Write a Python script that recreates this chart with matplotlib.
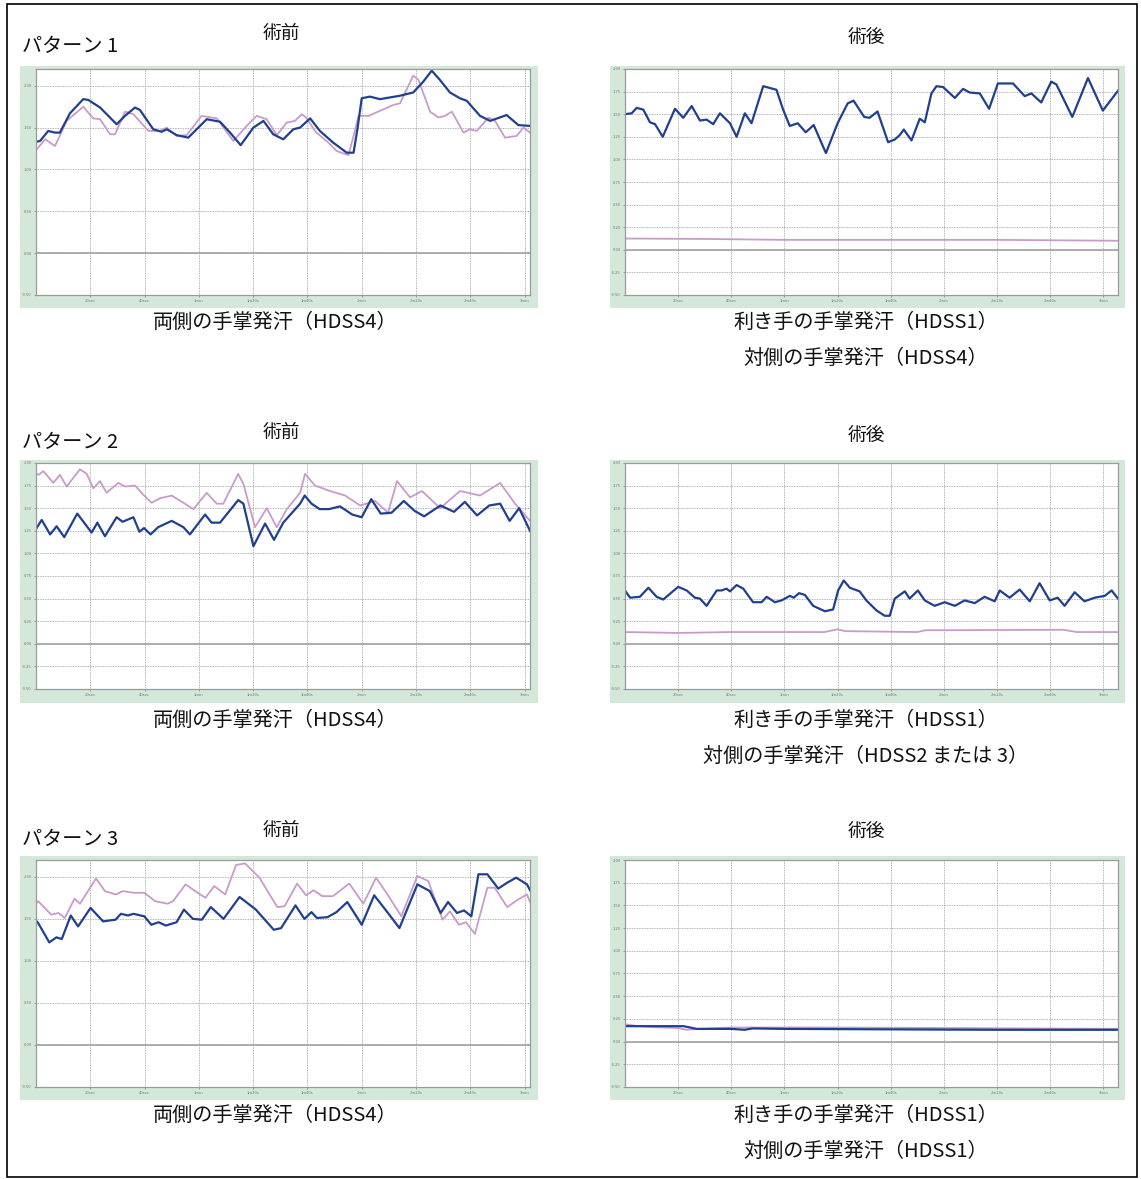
import matplotlib
matplotlib.use('Agg')
import matplotlib.pyplot as plt
from matplotlib.patches import Rectangle

plt.rcParams['font.family'] = ['Noto Sans CJK JP', 'DejaVu Sans']

BLUE = '#20408f'
PINK = '#c99bcb'
GREEN = '#d3e8d8'

x_ticks = [20, 40, 60, 80, 100, 120, 140, 160, 180]
x_labels = ['20sec', '40sec', '1min', '1m20s', '1m40s', '2min', '2m20s', '2m40s', '3min']
y_ticks_pre = [-0.5, 0.0, 0.5, 1.0, 1.5, 2.0]
y_ticks_post = [-0.5, -0.25, 0.0, 0.25, 0.5, 0.75, 1.0, 1.25, 1.5, 1.75, 2.0]

# パターン1 術前
p1_pre_blue_t = [0, 1.5, 4.5, 7, 8.8, 12.5, 17.4, 19.3, 23.6, 29.7, 32.8, 36.5, 38.3, 43.2, 46.3, 48.2,
                 51.8, 56.1, 62.9, 67.8, 71.5, 75.4, 80.1, 83.8, 87.4, 91.1, 94.8, 97.3, 101, 104.6,
                 109.5, 114.5, 117, 118.5, 120, 123, 126.7, 134, 139, 142.7, 145.8, 148.8, 152.5,
                 156.2, 158.7, 163.6, 167.3, 173.4, 177.7, 182]
p1_pre_blue = [1.33, 1.34, 1.46, 1.44, 1.44, 1.67, 1.84, 1.83, 1.74, 1.54, 1.64, 1.74, 1.71, 1.48, 1.45, 1.48,
               1.41, 1.38, 1.60, 1.57, 1.44, 1.29, 1.50, 1.58, 1.42, 1.36, 1.48, 1.50, 1.61, 1.46,
               1.32, 1.20, 1.20, 1.50, 1.85, 1.87, 1.84, 1.88, 1.92, 2.05, 2.18, 2.07, 1.92,
               1.85, 1.82, 1.64, 1.58, 1.65, 1.53, 1.52]
p1_pre_pink_t = [0, 3.4, 7, 11.3, 17.4, 21.1, 23.6, 27.3, 29.1, 32.8, 35.9, 41.4, 45.7, 48.2, 51.8, 55.5,
                 61, 66.6, 72.7, 77.6, 81.3, 85, 88.7, 92.4, 95.4, 97.9, 99.5, 103, 107.7, 110.8, 115.1,
                 117, 118.8, 122.5, 126.7, 131.6, 134.1, 139, 140.9, 145.2, 148.3, 150.7, 153.2, 157.5,
                 159.9, 162.4, 166.7, 169.1, 172.8, 177.1, 179.6, 182]
p1_pre_pink = [1.23, 1.36, 1.28, 1.58, 1.75, 1.61, 1.60, 1.42, 1.42, 1.69, 1.66, 1.46, 1.46, 1.50, 1.40, 1.41,
               1.64, 1.61, 1.34, 1.52, 1.64, 1.60, 1.41, 1.56, 1.58, 1.66, 1.62, 1.45, 1.32, 1.22, 1.17,
               1.40, 1.64, 1.64, 1.70, 1.77, 1.79, 2.12, 2.07, 1.69, 1.62, 1.64, 1.69, 1.44,
               1.48, 1.46, 1.62, 1.58, 1.38, 1.40, 1.50, 1.44]

# パターン1 術後
p1_post_blue_t = [0, 2.5, 4.4, 6.9, 9.4, 11.3, 14.2, 18.8, 21.9, 25.1, 28.2, 30.7, 33.2, 35.7, 39.5, 42,
                  45.1, 47.6, 52, 57, 59.5, 62, 65, 68, 71, 75.6, 80, 83.8, 86, 90, 92, 95, 99, 101.5,
                  103.4, 104.9, 107.8, 110.9, 112.8, 115.3, 117.2, 119.7, 124.1, 127.2, 129.7, 133.5,
                  137, 140.3, 146, 150.4, 152.9, 156.6, 160.4, 162.3, 168.3, 174.2, 179.8, 185.5]
p1_post_blue = [1.50, 1.51, 1.57, 1.55, 1.41, 1.39, 1.25, 1.56, 1.46, 1.59, 1.43, 1.44, 1.39, 1.51, 1.40, 1.25,
                1.51, 1.40, 1.81, 1.77, 1.55, 1.37, 1.40, 1.30, 1.38, 1.07, 1.40, 1.62, 1.65, 1.47, 1.46,
                1.53, 1.19, 1.22, 1.27, 1.33, 1.21, 1.45, 1.41, 1.73, 1.81, 1.80, 1.68, 1.78, 1.74, 1.73,
                1.56, 1.84, 1.84, 1.70, 1.73, 1.63, 1.86, 1.83, 1.47, 1.90, 1.54, 1.76]
p1_post_pink_t = [0, 30, 60, 100, 140, 185.5]
p1_post_pink = [0.125, 0.12, 0.11, 0.11, 0.11, 0.10]

# パターン2 術前
p2_pre_blue_t = [0, 2.1, 5.2, 7.6, 10.4, 15.2, 20.5, 22.6, 25.4, 29.7, 31.9, 35.9, 38.1, 39.8, 42.2, 45,
                 50, 54.3, 56.7, 62.3, 64.7, 67.8, 74.5, 76.4, 80.1, 84.4, 87.7, 91.1, 97.3, 99, 101.5,
                 104.5, 108, 112, 116.5, 120, 123.5, 127, 131, 135.5, 139.5, 143, 149, 154, 158, 162.5,
                 167, 171, 174.5, 178, 182]
p2_pre_blue = [1.27, 1.37, 1.21, 1.30, 1.18, 1.44, 1.23, 1.34, 1.19, 1.40, 1.35, 1.40, 1.24, 1.28, 1.21, 1.29,
               1.36, 1.29, 1.21, 1.43, 1.34, 1.34, 1.59, 1.55, 1.08, 1.33, 1.15, 1.34, 1.55, 1.64, 1.55,
               1.49, 1.49, 1.52, 1.43, 1.40, 1.60, 1.44, 1.45, 1.58, 1.47, 1.41, 1.53, 1.46, 1.57, 1.42,
               1.53, 1.55, 1.36, 1.50, 1.25]
p2_pre_pink_t = [0, 1, 2.7, 6.4, 8.8, 11.3, 16.2, 18.7, 21.1, 23.6, 26, 30.3, 32.8, 36.5, 39.5, 42.6, 45.7,
                 50, 54.3, 58, 62.9, 66.6, 69, 74.5, 76.4, 80.7, 85, 88.7, 92.4, 97.3, 99.1, 102.8, 108.3,
                 113.9, 119.4, 124.9, 129.7, 133, 137.8, 142.2, 148.9, 156.2, 163.6, 171, 176.5, 182]
p2_pre_pink = [1.88, 1.87, 1.91, 1.78, 1.87, 1.74, 1.93, 1.88, 1.72, 1.80, 1.67, 1.78, 1.74, 1.75, 1.65, 1.56, 1.61,
               1.64, 1.56, 1.49, 1.67, 1.55, 1.55, 1.88, 1.77, 1.29, 1.50, 1.29, 1.49, 1.67, 1.88, 1.75, 1.69,
               1.64, 1.53, 1.58, 1.45, 1.80, 1.62, 1.69, 1.50, 1.69, 1.64, 1.78, 1.55, 1.36]

# パターン2 術後
p2_post_blue_t = [0, 1.9, 5.6, 8.8, 11.9, 14.4, 20, 23.2, 26.3, 28.2, 30.7, 34.5, 36.3, 38.2, 39.5, 42, 44.5,
                  48.2, 51.4, 53.3, 56.4, 58.9, 62, 63.5, 65.5, 67.7, 70.8, 75.2, 78.3, 80.2, 82.3, 84.6,
                  88.3, 90.8, 94.6, 97.7, 99.6, 101.5, 105.3, 107.1, 110.2, 112.8, 116.5, 120.3, 124.1,
                  127.8, 131.6, 135.3, 139.1, 141, 144.7, 148.5, 152.3, 156, 159.8, 162.8, 165.4, 169.2,
                  172.9, 176.7, 180.5, 183.1, 185.5]
p2_post_blue = [0.59, 0.51, 0.52, 0.62, 0.52, 0.49, 0.63, 0.59, 0.51, 0.50, 0.42, 0.59, 0.59, 0.61, 0.58, 0.65, 0.61,
                0.46, 0.46, 0.52, 0.46, 0.48, 0.53, 0.51, 0.56, 0.54, 0.42, 0.36, 0.38, 0.59, 0.70, 0.62,
                0.58, 0.48, 0.37, 0.31, 0.31, 0.50, 0.58, 0.50, 0.59, 0.48, 0.42, 0.46, 0.42,
                0.48, 0.45, 0.52, 0.47, 0.59, 0.51, 0.60, 0.47, 0.67, 0.48, 0.51, 0.42, 0.57,
                0.47, 0.51, 0.53, 0.59, 0.50]
p2_post_pink_t = [0, 20, 40, 60, 75, 80, 83, 110, 113, 165, 170, 185.5]
p2_post_pink = [0.13, 0.12, 0.13, 0.13, 0.13, 0.16, 0.14, 0.13, 0.15, 0.155, 0.13, 0.13]

# パターン3 術前
p3_pre_blue_t = [0, 0.8, 4.9, 7.5, 9.5, 12.8, 15.5, 20.1, 24.7, 29.3, 31.3, 33.9, 35.9, 39.9, 42.5, 45.2,
                 47.8, 51.8, 54.5, 57.8, 61.1, 64.4, 69.1, 75, 81, 87.6, 90.3, 95.6, 98.9, 101.5, 103.5,
                 107.4, 110.7, 114.7, 120, 124.6, 129.2, 133.9, 140.5, 145.1, 149.1, 151.8, 155.1, 157.7,
                 160.4, 163, 166.3, 170.3, 173.6, 176.9, 180.9, 182]
p3_pre_blue = [1.48, 1.45, 1.22, 1.28, 1.26, 1.54, 1.41, 1.63, 1.47, 1.49, 1.56, 1.54, 1.56, 1.53, 1.43, 1.46,
               1.42, 1.46, 1.61, 1.50, 1.49, 1.64, 1.50, 1.76, 1.61, 1.37, 1.39, 1.66, 1.50, 1.58, 1.51,
               1.52, 1.58, 1.70, 1.43, 1.78, 1.59, 1.39, 1.91, 1.83, 1.57, 1.70, 1.57, 1.60,
               1.53, 2.03, 2.03, 1.86, 1.93, 1.99, 1.91, 1.84]
p3_pre_pink_t = [0, 0.8, 5.6, 8.3, 10.6, 14.2, 16.2, 22.1, 25.4, 29.4, 32, 36, 39.9, 43.9, 48.5, 50.5,
                 55.1, 59.1, 62.4, 65.7, 69.7, 73.7, 77, 82.3, 88.9, 91.6, 96.2, 99.5, 102.2, 105.5, 109.4,
                 115.4, 120.6, 125.3, 129.9, 134.6, 140.5, 144.5, 149.8, 152.5, 155.8, 158.4, 161.7, 166.3,
                 169, 173.6, 177.6, 180.9, 182]
p3_pre_pink = [1.69, 1.71, 1.55, 1.57, 1.51, 1.74, 1.68, 1.98, 1.83, 1.79, 1.83, 1.81, 1.81, 1.71, 1.68, 1.71,
               1.91, 1.82, 1.75, 1.89, 1.79, 2.14, 2.16, 1.99, 1.64, 1.65, 1.92, 1.78, 1.84, 1.77, 1.77,
               1.92, 1.68, 1.99, 1.77, 1.53, 2.01, 1.95, 1.49, 1.59, 1.43, 1.46, 1.32, 1.87,
               1.87, 1.64, 1.73, 1.79, 1.70]

# パターン3 術後
p3_post_blue_t = [0, 10, 22, 27, 40, 45, 48, 60, 100, 140, 185.5]
p3_post_blue = [0.17, 0.17, 0.17, 0.14, 0.14, 0.13, 0.145, 0.14, 0.135, 0.13, 0.13]
p3_post_pink_t = [0, 5, 10, 20, 23, 28, 40, 80, 120, 185.5]
p3_post_pink = [0.19, 0.17, 0.16, 0.15, 0.13, 0.14, 0.155, 0.155, 0.15, 0.14]

W, H = 1141, 1179
fig = plt.figure(figsize=(W / 100, H / 100), dpi=100)


def box(x0, y0, x1, y1):
    # pixel box -> figure fraction
    return [x0 / W, 1 - y1 / H, (x1 - x0) / W, (y1 - y0) / H]


cols_green = [(20, 538), (610, 1125)]
cols_axes = [(36, 530), (625, 1118)]
rows_green = [(66, 308), (460, 703), (856, 1100)]
rows_axes = [(69, 295), (463, 689), (860, 1087)]


def panel(col, row, blue, pink, yticks, ytop, xmax):
    gx0, gx1 = cols_green[col]
    gy0, gy1 = rows_green[row]
    bg = fig.add_axes(box(gx0, gy0, gx1, gy1))
    bg.set_facecolor(GREEN)
    bg.set_xticks([])
    bg.set_yticks([])
    for s in bg.spines.values():
        s.set_visible(False)

    ax0, ax1 = cols_axes[col]
    ay0, ay1 = rows_axes[row]
    ax = fig.add_axes(box(ax0, ay0, ax1, ay1))
    ax.set_facecolor('white')
    ax.set_xlim(0, xmax)
    ax.set_ylim(-0.5, ytop)
    ax.set_xticks(x_ticks)
    ax.set_xticklabels(x_labels)
    ax.set_yticks(yticks)
    ax.set_yticklabels(['%.2f' % v for v in yticks])
    ax.tick_params(labelsize=3, colors='#777777', length=1.5, width=0.5, pad=1.5)
    for s in ax.spines.values():
        s.set_color('#9a9a9a')
        s.set_linewidth(0.9)
    ax.grid(True, color='#9a9a9a', linestyle=(0, (1, 1)), linewidth=0.6)
    ax.axhline(0, color='#a8a8a8', linewidth=1.3)
    ax.set_axisbelow(True)
    ax.plot(pink[0], pink[1], color=PINK, linewidth=1.3, solid_joinstyle='round')
    ax.plot(blue[0], blue[1], color=BLUE, linewidth=1.6, solid_joinstyle='round')
    return ax


panel(0, 0, (p1_pre_blue_t, p1_pre_blue), (p1_pre_pink_t, p1_pre_pink), y_ticks_pre, 2.2, 182)
panel(1, 0, (p1_post_blue_t, p1_post_blue), (p1_post_pink_t, p1_post_pink), y_ticks_post, 2.0, 185.5)
panel(0, 1, (p2_pre_blue_t, p2_pre_blue), (p2_pre_pink_t, p2_pre_pink), y_ticks_post, 2.0, 182)
panel(1, 1, (p2_post_blue_t, p2_post_blue), (p2_post_pink_t, p2_post_pink), y_ticks_post, 2.0, 185.5)
panel(0, 2, (p3_pre_blue_t, p3_pre_blue), (p3_pre_pink_t, p3_pre_pink), y_ticks_pre, 2.2, 182)
panel(1, 2, (p3_post_blue_t, p3_post_blue), (p3_post_pink_t, p3_post_pink), y_ticks_post, 2.0, 185.5)


def txt(x, y, s, size=14, ha='center'):
    fig.text(x / W, 1 - y / H, s, fontsize=size, ha=ha, va='center', color='#111111')


patterns = ['パターン 1', 'パターン 2', 'パターン 3']
pattern_y = [47, 443, 840]
title_pre_y = [33, 432, 830]
title_post_y = [37, 435, 832]
caption_y = [322, 720, 1115]
caption_left = '両側の手掌発汗（HDSS4）'
caption_right1 = '利き手の手掌発汗（HDSS1）'
caption_right2 = ['対側の手掌発汗（HDSS4）', '対側の手掌発汗（HDSS2 または 3）', '対側の手掌発汗（HDSS1）']

for i in range(3):
    txt(22, pattern_y[i], patterns[i], size=14.5, ha='left')
    txt(281, title_pre_y[i], '術前', size=13.5)
    txt(866, title_post_y[i], '術後', size=13.5)
    txt(275, caption_y[i], caption_left, size=14.5)
    txt(866, caption_y[i], caption_right1, size=14.5)
    txt(866, caption_y[i] + 36, caption_right2[i], size=14.5)

# outer frame
fig.add_artist(Rectangle((7 / W, 1 - 1177 / H), 1130 / W, 1173 / H, transform=fig.transFigure,
                         fill=False, edgecolor='black', linewidth=1.2))

fig.savefig('out.png', dpi=100)
